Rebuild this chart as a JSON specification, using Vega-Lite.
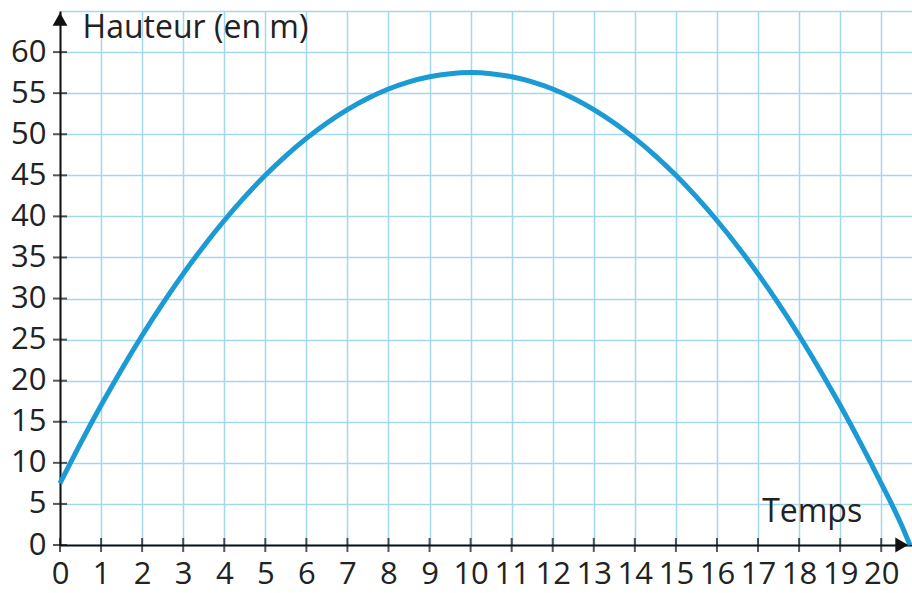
{
  "$schema": "https://vega.github.io/schema/vega-lite/v6.json",
  "width": 852,
  "height": 534,
  "autosize": {"type": "none"},
  "padding": {"left": 60, "top": 11, "right": 0, "bottom": 48},
  "background": "white",
  "config": {"view": {"stroke": null}, "font": "Open Sans"},
  "datasets": {
    "curve": [
      {"t": 0, "h": 7.5}, {"t": 0.5, "h": 12.375}, {"t": 1, "h": 17}, {"t": 1.5, "h": 21.375},
      {"t": 2, "h": 25.5}, {"t": 2.5, "h": 29.375}, {"t": 3, "h": 33}, {"t": 3.5, "h": 36.375},
      {"t": 4, "h": 39.5}, {"t": 4.5, "h": 42.375}, {"t": 5, "h": 45}, {"t": 5.5, "h": 47.375},
      {"t": 6, "h": 49.5}, {"t": 6.5, "h": 51.375}, {"t": 7, "h": 53}, {"t": 7.5, "h": 54.375},
      {"t": 8, "h": 55.5}, {"t": 8.5, "h": 56.375}, {"t": 9, "h": 57}, {"t": 9.5, "h": 57.375},
      {"t": 10, "h": 57.5}, {"t": 10.5, "h": 57.375}, {"t": 11, "h": 57}, {"t": 11.5, "h": 56.375},
      {"t": 12, "h": 55.5}, {"t": 12.5, "h": 54.375}, {"t": 13, "h": 53}, {"t": 13.5, "h": 51.375},
      {"t": 14, "h": 49.5}, {"t": 14.5, "h": 47.375}, {"t": 15, "h": 45}, {"t": 15.5, "h": 42.375},
      {"t": 16, "h": 39.5}, {"t": 16.5, "h": 36.375}, {"t": 17, "h": 33}, {"t": 17.5, "h": 29.375},
      {"t": 18, "h": 25.5}, {"t": 18.5, "h": 21.375}, {"t": 19, "h": 17}, {"t": 19.5, "h": 12.375},
      {"t": 20, "h": 7.5}, {"t": 20.5, "h": 2.375}, {"t": 20.7, "h": 0}
    ],
    "xticks": [
      {"v": 0}, {"v": 1}, {"v": 2}, {"v": 3}, {"v": 4}, {"v": 5}, {"v": 6}, {"v": 7}, {"v": 8}, {"v": 9}, {"v": 10},
      {"v": 11}, {"v": 12}, {"v": 13}, {"v": 14}, {"v": 15}, {"v": 16}, {"v": 17}, {"v": 18}, {"v": 19}, {"v": 20}
    ],
    "yticks": [
      {"v": 0}, {"v": 5}, {"v": 10}, {"v": 15}, {"v": 20}, {"v": 25}, {"v": 30},
      {"v": 35}, {"v": 40}, {"v": 45}, {"v": 50}, {"v": 55}, {"v": 60}
    ],
    "arrows": [
      {"x": 0, "y": 64.0, "shape": "triangle-up"},
      {"x": 20.5, "y": 0, "shape": "triangle-right"}
    ],
    "labels": [
      {"x": 0.55, "y": 61.7, "text": "Hauteur (en m)"},
      {"x": 17.1, "y": 2.8, "text": "Temps"}
    ]
  },
  "layer": [
    {
      "data": {"name": "curve"},
      "mark": {"type": "line", "color": "#1b9ad4", "strokeWidth": 5, "interpolate": "monotone", "clip": false},
      "encoding": {
        "x": {
          "field": "t", "type": "quantitative",
          "scale": {"domain": [0, 20.75], "nice": false, "zero": false},
          "axis": {
            "title": null,
            "values": [0,1,2,3,4,5,6,7,8,9,10,11,12,13,14,15,16,17,18,19,20],
            "grid": true, "gridColor": "#a4d7ee", "gridWidth": 1.5, "gridOpacity": 1,
            "ticks": false,
            "domain": true, "domainColor": "#111", "domainWidth": 2,
            "labelFontSize": 31, "labelColor": "#222", "labelPadding": 14,
            "labelOverlap": false, "labelFlush": false, "labelFont": "Open Sans"
          }
        },
        "y": {
          "field": "h", "type": "quantitative",
          "scale": {"domain": [0, 65], "nice": false, "zero": false},
          "axis": {
            "title": null,
            "values": [0,5,10,15,20,25,30,35,40,45,50,55,60,65],
            "labelExpr": "datum.value > 60 ? '' : datum.label",
            "grid": true, "gridColor": "#a4d7ee", "gridWidth": 1.5, "gridOpacity": 1,
            "ticks": false,
            "domain": true, "domainColor": "#111", "domainWidth": 2,
            "labelFontSize": 31, "labelColor": "#222", "labelPadding": 14,
            "labelOverlap": false, "labelFlush": false, "labelFont": "Open Sans"
          }
        }
      }
    },
    {
      "data": {"name": "xticks"},
      "mark": {"type": "tick", "orient": "vertical", "color": "#111", "thickness": 2, "size": 14, "clip": false},
      "encoding": {
        "x": {"field": "v", "type": "quantitative", "axis": {"title": null}},
        "y": {"datum": 0, "type": "quantitative", "axis": {"title": null}}
      }
    },
    {
      "data": {"name": "yticks"},
      "mark": {"type": "tick", "orient": "horizontal", "color": "#111", "thickness": 2, "size": 14, "clip": false},
      "encoding": {
        "y": {"field": "v", "type": "quantitative", "axis": {"title": null}},
        "x": {"datum": 0, "type": "quantitative", "axis": {"title": null}}
      }
    },
    {
      "data": {"name": "arrows"},
      "mark": {"type": "point", "filled": true, "color": "#111", "size": 220, "opacity": 1, "clip": false},
      "encoding": {
        "x": {"field": "x", "type": "quantitative", "axis": {"title": null}},
        "y": {"field": "y", "type": "quantitative", "axis": {"title": null}},
        "shape": {"field": "shape", "type": "nominal", "scale": null, "legend": null}
      }
    },
    {
      "data": {"name": "labels"},
      "mark": {"type": "text", "align": "left", "baseline": "alphabetic", "fontSize": 32, "color": "#222", "font": "Open Sans"},
      "encoding": {
        "x": {"field": "x", "type": "quantitative", "axis": {"title": null}},
        "y": {"field": "y", "type": "quantitative", "axis": {"title": null}},
        "text": {"field": "text", "type": "nominal"}
      }
    }
  ]
}
